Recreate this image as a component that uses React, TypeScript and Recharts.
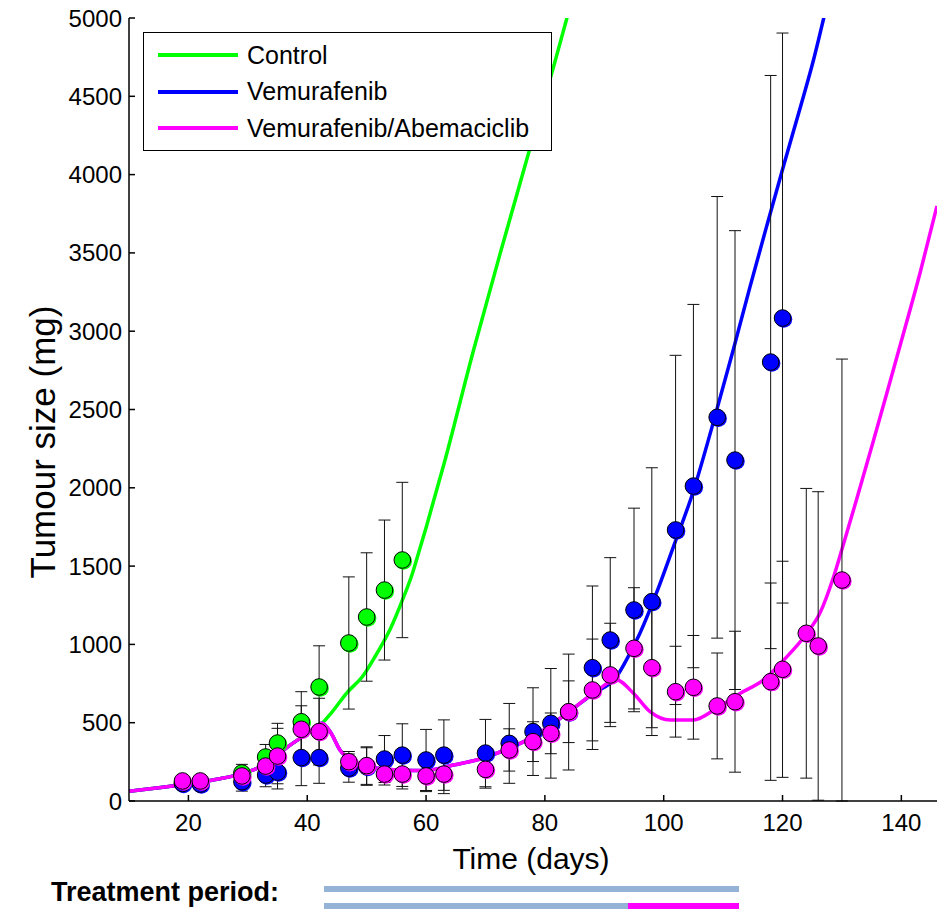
import React from 'react';
import { ComposedChart, Line, Scatter, XAxis, YAxis, ErrorBar, Legend } from 'recharts';

// plot frame (page pixels)
const PLOT = { left: 129, right: 937, top: 18, bottom: 801 };
const X_DOMAIN: [number, number] = [10, 146];
const Y_DOMAIN: [number, number] = [0, 5000];
const xTicks = [20, 40, 60, 80, 100, 120, 140];
const yTicks = [0, 500, 1000, 1500, 2000, 2500, 3000, 3500, 4000, 4500, 5000];

const GREEN = '#00ff00';
const BLUE = '#0000ff';
const MAGENTA = '#ff00ff';

// measured tumour sizes (mean ± sd)
const controlDays = [19, 22, 29, 33, 35, 39, 42, 47, 50, 53, 56];
const controlMeans = [115, 120, 179, 281, 370, 506, 728, 1009, 1175, 1347, 1539];
const controlErr = [20, 20, 55, 80, 126, 192, 263, 422, 410, 447, 496];

const vemDays = [19, 22, 29, 33, 35, 39, 42, 47, 50, 53, 56, 60, 63, 70, 74, 78, 81, 84, 88, 91, 95, 98, 102, 105, 109, 112, 118, 120];
const vemMeans = [112, 108, 123, 166, 185, 277, 277, 210, 220, 268, 293, 262, 293, 306, 368, 443, 496, 568, 851, 1028, 1220, 1273, 1731, 2011, 2450, 2177, 2803, 3084];
const vemErr = [15, 15, 60, 75, 108, 179, 164, 90, 120, 150, 200, 195, 225, 215, 255, 280, 350, 370, 522, 526, 650, 855, 1115, 1160, 1410, 1465, 1830, 1820];

const comboDays = [19, 22, 29, 33, 35, 39, 42, 47, 50, 53, 56, 60, 63, 70, 74, 78, 81, 84, 88, 91, 95, 98, 102, 105, 109, 112, 118, 120, 124, 126, 130];
const comboMeans = [128, 128, 160, 223, 287, 458, 443, 251, 226, 172, 172, 160, 172, 202, 326, 379, 432, 570, 709, 805, 975, 851, 698, 726, 607, 634, 762, 841, 1071, 990, 1411];
const comboErr = [15, 15, 50, 60, 177, 150, 213, 65, 120, 70, 95, 100, 125, 120, 135, 127, 130, 197, 325, 330, 387, 383, 290, 331, 338, 450, 630, 690, 925, 985, 1411];

// model fits
const controlFitDays = [10, 15, 20, 25, 29, 33, 36.5, 40.5, 42.5, 44, 46.6, 49.4, 52, 54, 56.2, 57.5, 58.4, 60, 63, 68, 72.5, 77.2, 81.4, 84];
const controlFitValues = [62, 85, 108, 140, 175, 235, 340, 443, 497, 560, 688, 800, 960, 1100, 1300, 1430, 1540, 1745, 2150, 2880, 3500, 4130, 4680, 5040];

const vemFitDays = [10, 15, 20, 25, 29, 33, 36.5, 40.5, 42.5, 44, 45.5, 46.6, 49.4, 53.4, 57.9, 60.7, 64.6, 68.5, 71.9, 75.3, 78.1, 83.7, 88.2, 92, 94, 96, 98.8, 101.6, 105, 108, 111.7, 114.5, 117.4, 120.2, 123, 125.2, 127];
const vemFitValues = [62, 85, 108, 140, 175, 235, 340, 443, 497, 434, 326, 281, 230, 202, 194, 198, 230, 262, 305, 358, 411, 560, 688, 790, 920, 1071, 1330, 1620, 1980, 2370, 2880, 3280, 3680, 4060, 4430, 4730, 5010];

const comboFitDays = [10, 15, 20, 25, 29, 33, 36.5, 40.5, 42.5, 44, 45.5, 46.6, 49.4, 53.4, 57.9, 60.7, 64.6, 68.5, 71.9, 75.3, 78.1, 83.7, 88.2, 92, 94.9, 97.7, 101.1, 105, 108.9, 112.9, 116.8, 120.2, 124.1, 126.3, 128.6, 130.3, 132.5, 135.3, 137.6, 139.8, 143.2, 146];
const comboFitValues = [62, 85, 108, 140, 175, 235, 340, 443, 497, 434, 326, 281, 230, 202, 194, 198, 230, 262, 305, 358, 411, 560, 688, 775, 688, 570, 517, 517, 592, 688, 773, 900, 1071, 1200, 1432, 1646, 1930, 2300, 2610, 2910, 3380, 3800];

// treatment periods (days)
const vemTreatment = [42.8, 112.7];
const abemaTreatmentStart = 94;

const legendItems = [
  { name: 'Control', color: GREEN },
  { name: 'Vemurafenib', color: BLUE },
  { name: 'Vemurafenib/Abemaciclib', color: MAGENTA },
];

const toPoints = (days: number[], means: number[], err: number[]) =>
  days.map((d, i) => ({ day: d, v: means[i], err: [Math.min(err[i], means[i]), err[i]] }));
const toCurve = (days: number[], vals: number[]) => days.map((d, i) => ({ day: d, v: vals[i] }));

const controlPts = toPoints(controlDays, controlMeans, controlErr);
const vemPts = toPoints(vemDays, vemMeans, vemErr);
const comboPts = toPoints(comboDays, comboMeans, comboErr);
const controlFit = toCurve(controlFitDays, controlFitValues);
const vemFit = toCurve(vemFitDays, vemFitValues);
const comboFit = toCurve(comboFitDays, comboFitValues);

const dayToPx = (d: number) => PLOT.left + ((d - X_DOMAIN[0]) / (X_DOMAIN[1] - X_DOMAIN[0])) * (PLOT.right - PLOT.left);

const renderDot = (color: string) => (props: any) => {
  const { cx, cy } = props;
  if (cx == null || cy == null) return <g />;
  return (
    <g>
      <circle cx={cx + 1.2} cy={cy + 1.2} r={8.5} fill={color} />
      <circle cx={cx} cy={cy} r={8.3} fill={color} stroke="#000" strokeWidth={1} />
    </g>
  );
};

const BottomTick = ({ x, payload }: any) => (
  <g>
    <line x1={x} y1={PLOT.bottom} x2={x} y2={PLOT.bottom - 6} stroke="#000" strokeWidth={1.5} />
    <text x={x} y={PLOT.bottom + 30} textAnchor="middle" fontSize={24} fill="#000">{payload.value}</text>
  </g>
);

const TopTick = ({ x }: any) => (
  <line x1={x} y1={PLOT.top} x2={x} y2={PLOT.top + 6} stroke="#000" strokeWidth={1.5} />
);

const LeftTick = ({ y, payload }: any) => (
  <g>
    <line x1={PLOT.left} y1={y} x2={PLOT.left + 6} y2={y} stroke="#000" strokeWidth={1.5} />
    <text x={PLOT.left - 7} y={y + 8.5} textAnchor="end" fontSize={24} fill="#000">{payload.value}</text>
  </g>
);

const RightTick = ({ y }: any) => (
  <line x1={PLOT.right} y1={y} x2={PLOT.right - 6} y2={y} stroke="#000" strokeWidth={1.5} />
);

const LegendBox = () => (
  <div style={{ width: 409, height: 119, boxSizing: 'border-box', border: '1.5px solid #000', background: '#fff', position: 'relative' }}>
    {legendItems.map((it, i) => (
      <div key={it.name} style={{ position: 'absolute', left: 14, top: 22 + i * 36.5 - 16, height: 32, display: 'flex', alignItems: 'center' }}>
        <div style={{ width: 80, height: 4, background: it.color }} />
        <span style={{ marginLeft: 9, fontSize: 25, color: '#000', whiteSpace: 'nowrap' }}>{it.name}</span>
      </div>
    ))}
  </div>
);

export default function App() {
  return (
    <div style={{ position: 'absolute', left: 0, top: 0, width: 940, height: 909, overflow: 'hidden', background: '#fff', fontFamily: '"Liberation Sans", Arial, sans-serif' }}>
      <ComposedChart width={940} height={909} margin={{ top: 18, right: 3, bottom: 68, left: 0 }}>
        <XAxis
          dataKey="day"
          type="number"
          domain={X_DOMAIN}
          ticks={xTicks}
          allowDataOverflow
          height={40}
          axisLine={{ stroke: '#000', strokeWidth: 1.5 }}
          tickLine={false}
          tick={BottomTick}
          label={() => (
            <text x={531} y={869} textAnchor="middle" fontSize={30} fill="#000">Time (days)</text>
          )}
        />
        <XAxis
          xAxisId="top"
          orientation="top"
          dataKey="day"
          type="number"
          domain={X_DOMAIN}
          ticks={xTicks}
          allowDataOverflow
          height={0}
          axisLine={{ stroke: '#000', strokeWidth: 1.5 }}
          tickLine={false}
          tick={TopTick}
        />
        <YAxis
          type="number"
          domain={Y_DOMAIN}
          ticks={yTicks}
          allowDataOverflow
          width={129}
          axisLine={{ stroke: '#000', strokeWidth: 1.5 }}
          tickLine={false}
          tick={LeftTick}
          label={() => (
            <text x={55} y={442} transform="rotate(-90 55 442)" textAnchor="middle" fontSize={35} fill="#000">Tumour size (mg)</text>
          )}
        />
        <YAxis
          yAxisId="right"
          orientation="right"
          type="number"
          domain={Y_DOMAIN}
          ticks={yTicks}
          allowDataOverflow
          width={0}
          axisLine={{ stroke: '#000', strokeWidth: 1.5 }}
          tickLine={false}
          tick={RightTick}
        />

        <Line data={controlFit} dataKey="v" type="monotone" stroke={GREEN} strokeWidth={3.5} dot={false} activeDot={false} isAnimationActive={false} legendType="none" />
        <Line data={vemFit} dataKey="v" type="monotone" stroke={BLUE} strokeWidth={3.5} dot={false} activeDot={false} isAnimationActive={false} legendType="none" />
        <Line data={comboFit} dataKey="v" type="monotone" stroke={MAGENTA} strokeWidth={3.5} dot={false} activeDot={false} isAnimationActive={false} legendType="none" />

        <Scatter data={controlPts} dataKey="v" fill={GREEN} shape={renderDot(GREEN)} isAnimationActive={false} legendType="none">
          <ErrorBar dataKey="err" direction="y" width={6} stroke="#111" strokeWidth={1} isAnimationActive={false} />
        </Scatter>
        <Scatter data={vemPts} dataKey="v" fill={BLUE} shape={renderDot(BLUE)} isAnimationActive={false} legendType="none">
          <ErrorBar dataKey="err" direction="y" width={6} stroke="#111" strokeWidth={1} isAnimationActive={false} />
        </Scatter>
        <Scatter data={comboPts} dataKey="v" fill={MAGENTA} shape={renderDot(MAGENTA)} isAnimationActive={false} legendType="none">
          <ErrorBar dataKey="err" direction="y" width={6} stroke="#111" strokeWidth={1} isAnimationActive={false} />
        </Scatter>

        <Legend verticalAlign="middle" align="center" layout="horizontal" wrapperStyle={{ left: 143, top: 32, width: 409, height: 119 }} content={LegendBox} />
      </ComposedChart>

      {/* treatment period annotation */}
      <div style={{ position: 'absolute', left: 0, top: 879, width: 279, height: 27, lineHeight: '27px', textAlign: 'right', fontWeight: 700, fontSize: 27, color: '#000', whiteSpace: 'nowrap' }}>
        Treatment period:
      </div>
      <div style={{ position: 'absolute', left: dayToPx(vemTreatment[0]), top: 886, width: dayToPx(vemTreatment[1]) - dayToPx(vemTreatment[0]), height: 6, background: '#95b3d7' }} />
      <div style={{ position: 'absolute', left: dayToPx(vemTreatment[0]), top: 903, width: dayToPx(abemaTreatmentStart) - dayToPx(vemTreatment[0]), height: 6, background: '#95b3d7' }} />
      <div style={{ position: 'absolute', left: dayToPx(abemaTreatmentStart), top: 903, width: dayToPx(vemTreatment[1]) - dayToPx(abemaTreatmentStart), height: 6, background: MAGENTA }} />
    </div>
  );
}
